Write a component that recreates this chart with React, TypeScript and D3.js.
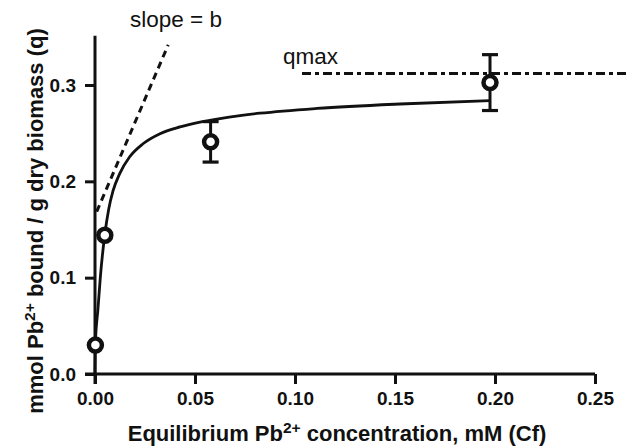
import React, { useEffect, useRef } from 'react';
import * as d3 from 'd3';

// measured points (Cf in mM, q in mmol/g)
const concentration = [0.0002, 0.0049, 0.0578, 0.1975];
const bound = [0.03, 0.144, 0.241, 0.3025];
const boundErr = [0, 0, 0.021, 0.029];

// fitted isotherm
const fitC = [0, 0.00015, 0.0015, 0.00265, 0.00485, 0.00685, 0.009, 0.01235, 0.01735, 0.024, 0.0325, 0.0425, 0.0525, 0.0625, 0.0725, 0.0825, 0.111, 0.1525, 0.1975];
const fitQ = [0, 0.03, 0.068, 0.1, 0.144, 0.171, 0.19, 0.208, 0.2255, 0.239, 0.2495, 0.2565, 0.2615, 0.2652, 0.2682, 0.2707, 0.2757, 0.2803, 0.2837];

// initial slope line and qmax line
const slopeC = [0.00085, 0.0366];
const slopeQ = [0.1685, 0.3416];
const qmaxC = [0.1035, 0.266];
const qmaxQ = [0.312, 0.312];

const xTicks = [0, 0.05, 0.1, 0.15, 0.2, 0.25];
const yTicks = [0, 0.1, 0.2, 0.3];

const W = 627;
const H = 448;
const ink = '#111';

export default function App() {
  const ref = useRef<SVGSVGElement>(null);

  useEffect(() => {
    const svg = d3.select(ref.current);
    svg.selectAll('*').remove();

    const x = d3.scaleLinear().domain([0, 0.25]).range([95, 595]);
    const y = d3.scaleLinear().domain([0, 0.3]).range([374, 85]);

    // axes
    const xAxis = svg.append('g')
      .attr('transform', `translate(0,${y(0)})`)
      .call(d3.axisBottom(x).tickValues(xTicks).tickSize(10).tickSizeOuter(0).tickPadding(8)
        .tickFormat(d3.format('.2f')));
    const yAxis = svg.append('g')
      .attr('transform', `translate(${x(0)},0)`)
      .call(d3.axisLeft(y).tickValues(yTicks).tickSize(10).tickSizeOuter(0).tickPadding(9)
        .tickFormat(d3.format('.1f')));

    xAxis.select('.domain').attr('d', `M${x(0) - 10},0H${x(0.25)}`);
    yAxis.select('.domain').attr('d', `M0,${y(0.351)}V${y(0) + 10}`);
    [xAxis, yAxis].forEach(g => {
      g.selectAll('.domain, .tick line').attr('stroke', ink).attr('stroke-width', 3);
      g.selectAll('.tick text')
        .attr('fill', ink)
        .attr('font-family', 'Liberation Sans, Arial, sans-serif')
        .attr('font-weight', 'bold')
        .attr('font-size', 19);
    });

    // fitted curve
    const line = d3.line<number>()
      .x(i => x(fitC[i]))
      .y(i => y(fitQ[i]))
      .curve(d3.curveMonotoneX);
    svg.append('path')
      .attr('d', line(d3.range(fitC.length)))
      .attr('fill', 'none')
      .attr('stroke', ink)
      .attr('stroke-width', 2.8);

    // slope = b
    svg.append('line')
      .attr('x1', x(slopeC[0])).attr('y1', y(slopeQ[0]))
      .attr('x2', x(slopeC[1])).attr('y2', y(slopeQ[1]))
      .attr('stroke', ink).attr('stroke-width', 3)
      .attr('stroke-dasharray', '7,5');

    // qmax
    svg.append('line')
      .attr('x1', x(qmaxC[0])).attr('y1', y(qmaxQ[0]))
      .attr('x2', x(qmaxC[1])).attr('y2', y(qmaxQ[1]))
      .attr('stroke', ink).attr('stroke-width', 3)
      .attr('stroke-dasharray', '9,4,4,4');

    // error bars
    const pts = svg.append('g');
    concentration.forEach((c, i) => {
      if (boundErr[i] > 0) {
        const cx = x(c);
        const top = y(bound[i] + boundErr[i]);
        const bot = y(bound[i] - boundErr[i]);
        pts.append('line').attr('x1', cx).attr('x2', cx).attr('y1', top).attr('y2', bot)
          .attr('stroke', ink).attr('stroke-width', 3);
        [top, bot].forEach(v => {
          pts.append('line').attr('x1', cx - 8).attr('x2', cx + 8).attr('y1', v).attr('y2', v)
            .attr('stroke', ink).attr('stroke-width', 3.2);
        });
      }
    });
    pts.selectAll('circle')
      .data(concentration)
      .join('circle')
      .attr('cx', d => x(d))
      .attr('cy', (d, i) => y(bound[i]))
      .attr('r', 6.5)
      .attr('fill', 'white')
      .attr('stroke', ink)
      .attr('stroke-width', 4.5);

    // labels
    const sans = 'Liberation Sans, Arial, sans-serif';
    svg.append('text').attr('x', 130).attr('y', 27)
      .attr('font-family', sans).attr('font-size', 22.5).attr('fill', ink)
      .text('slope = b');
    svg.append('text').attr('x', 283).attr('y', 64)
      .attr('font-family', sans).attr('font-size', 22.5).attr('fill', ink)
      .text('qmax');

    const xt = svg.append('text')
      .attr('x', 337).attr('y', 441)
      .attr('text-anchor', 'middle')
      .attr('font-family', sans).attr('font-weight', 'bold').attr('font-size', 22).attr('fill', ink);
    xt.append('tspan').text('Equilibrium Pb');
    xt.append('tspan').attr('dy', -8).attr('font-size', 15.5).text('2+');
    xt.append('tspan').attr('dy', 8).text(' concentration, mM (Cf)');

    const yt = svg.append('text')
      .attr('transform', `translate(43,221) rotate(-90)`)
      .attr('text-anchor', 'middle')
      .attr('font-family', sans).attr('font-weight', 'bold').attr('font-size', 22).attr('fill', ink);
    yt.append('tspan').text('mmol Pb');
    yt.append('tspan').attr('dy', -8).attr('font-size', 15.5).text('2+');
    yt.append('tspan').attr('dy', 8).text(' bound / g dry biomass (q)');
  }, []);

  return (
    <svg ref={ref} width={W} height={H}
      style={{ position: 'absolute', left: 0, top: 0, background: 'white' }} />
  );
}
